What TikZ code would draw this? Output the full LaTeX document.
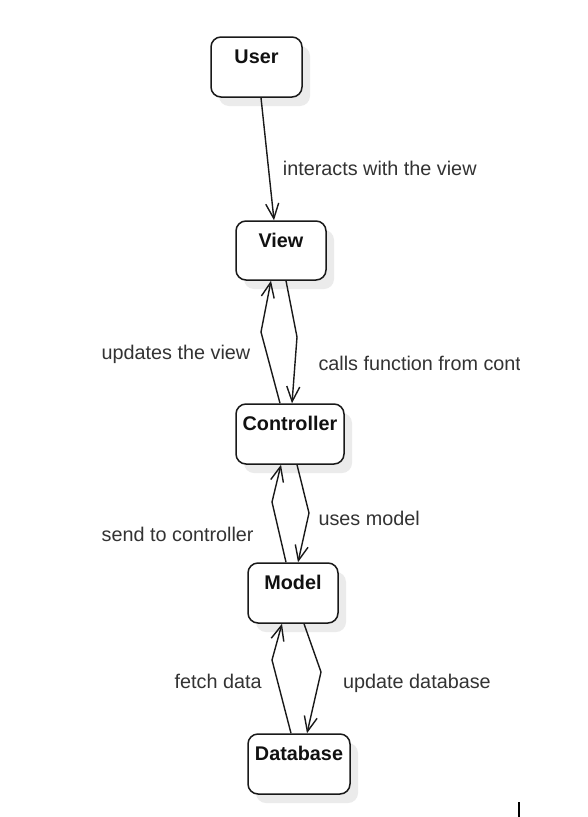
\documentclass[tikz,border=0pt]{standalone}
\usepackage{fontspec}
\setmainfont{Liberation Sans}
\usetikzlibrary{arrows.meta,shadows}
\definecolor{labelgray}{HTML}{333333}
\definecolor{boxtextcol}{HTML}{111111}
\tikzset{
  umlbox/.style={draw=black!90, line width=1.5pt, rounded corners=10pt, fill=white,
    drop shadow={shadow xshift=8pt, shadow yshift=-9pt, fill=black!8, opacity=1},
    inner sep=0pt},
  boxtext/.style={anchor=base, inner sep=0pt, text=boxtextcol,
    font=\fontsize{19.8}{23}\selectfont\bfseries},
  edgetext/.style={anchor=base west, inner sep=0pt, text=labelgray,
    font=\fontsize{19.8}{23}\selectfont},
  conn/.style={draw=black!90, line width=1.4pt,
    -{Straight Barb[length=15pt,width=13pt]}},
}
\begin{document}
\begin{tikzpicture}[x=1pt,y=-1pt]
\useasboundingbox[fill=white] (0,0) rectangle (587,817);

% boxes
\node[umlbox, minimum width=91pt, minimum height=60pt] (user) at (256.5,67) {};
\node[umlbox, minimum width=90pt, minimum height=59pt] (view) at (281,250.5) {};
\node[umlbox, minimum width=108pt, minimum height=60pt] (ctrl) at (290,434) {};
\node[umlbox, minimum width=90pt, minimum height=60pt] (model) at (293,593) {};
\node[umlbox, minimum width=102pt, minimum height=60pt] (db) at (299,764) {};

% box titles
\node[boxtext] (userlbl) at ([yshift=-27pt]user.north) {User};
\node[boxtext] (viewlbl) at ([yshift=-27pt]view.north) {View};
\node[boxtext] (ctrllbl) at ([yshift=-27pt]ctrl.north) {Controller};
\node[boxtext] (modellbl) at ([yshift=-27pt]model.north) {Model};
\node[boxtext] (dblbl) at ([yshift=-27pt]db.north) {Database};

% connectors
\draw[conn] ([xshift=4.5pt]user.south) -- ([xshift=-7pt]view.north);
\draw[conn] ([xshift=-10pt]ctrl.north) -- (261,332) -- ([xshift=-10pt]view.south);
\draw[conn] ([xshift=5pt]view.south) -- (297,337) -- ([xshift=2pt]ctrl.north);
\draw[conn] ([xshift=-7pt]model.north) -- (272,502) -- ([xshift=-9pt]ctrl.south);
\draw[conn] ([xshift=7pt]ctrl.south) -- (309,513) -- ([xshift=5pt]model.north);
\draw[conn] ([xshift=-8pt]db.north) -- (272,660) -- ([xshift=-11pt]model.south);
\draw[conn] ([xshift=11pt]model.south) -- (321,672) -- ([xshift=8pt]db.north);

% connector labels
\node[edgetext] (l1) at (282.7,175.5) {interacts with the view};
\node[edgetext] (l2) at (101.5,359) {updates the view};
\begin{scope}
  \clip (0,0) rectangle (519,817);
  \node[edgetext] (l3) at (318.3,370.5) {calls function from cont};
\end{scope}
\node[edgetext] (l4) at (101.5,541.7) {send to controller};
\node[edgetext] (l5) at (318.3,525.7) {uses model};
\node[edgetext] (l6) at (174.5,688.3) {fetch data};
\node[edgetext] (l7) at (343,688.3) {update database};

% small cursor mark at bottom right
\draw[line width=1.3pt, black] (519,802) -- (519,817);
\end{tikzpicture}
\end{document}
